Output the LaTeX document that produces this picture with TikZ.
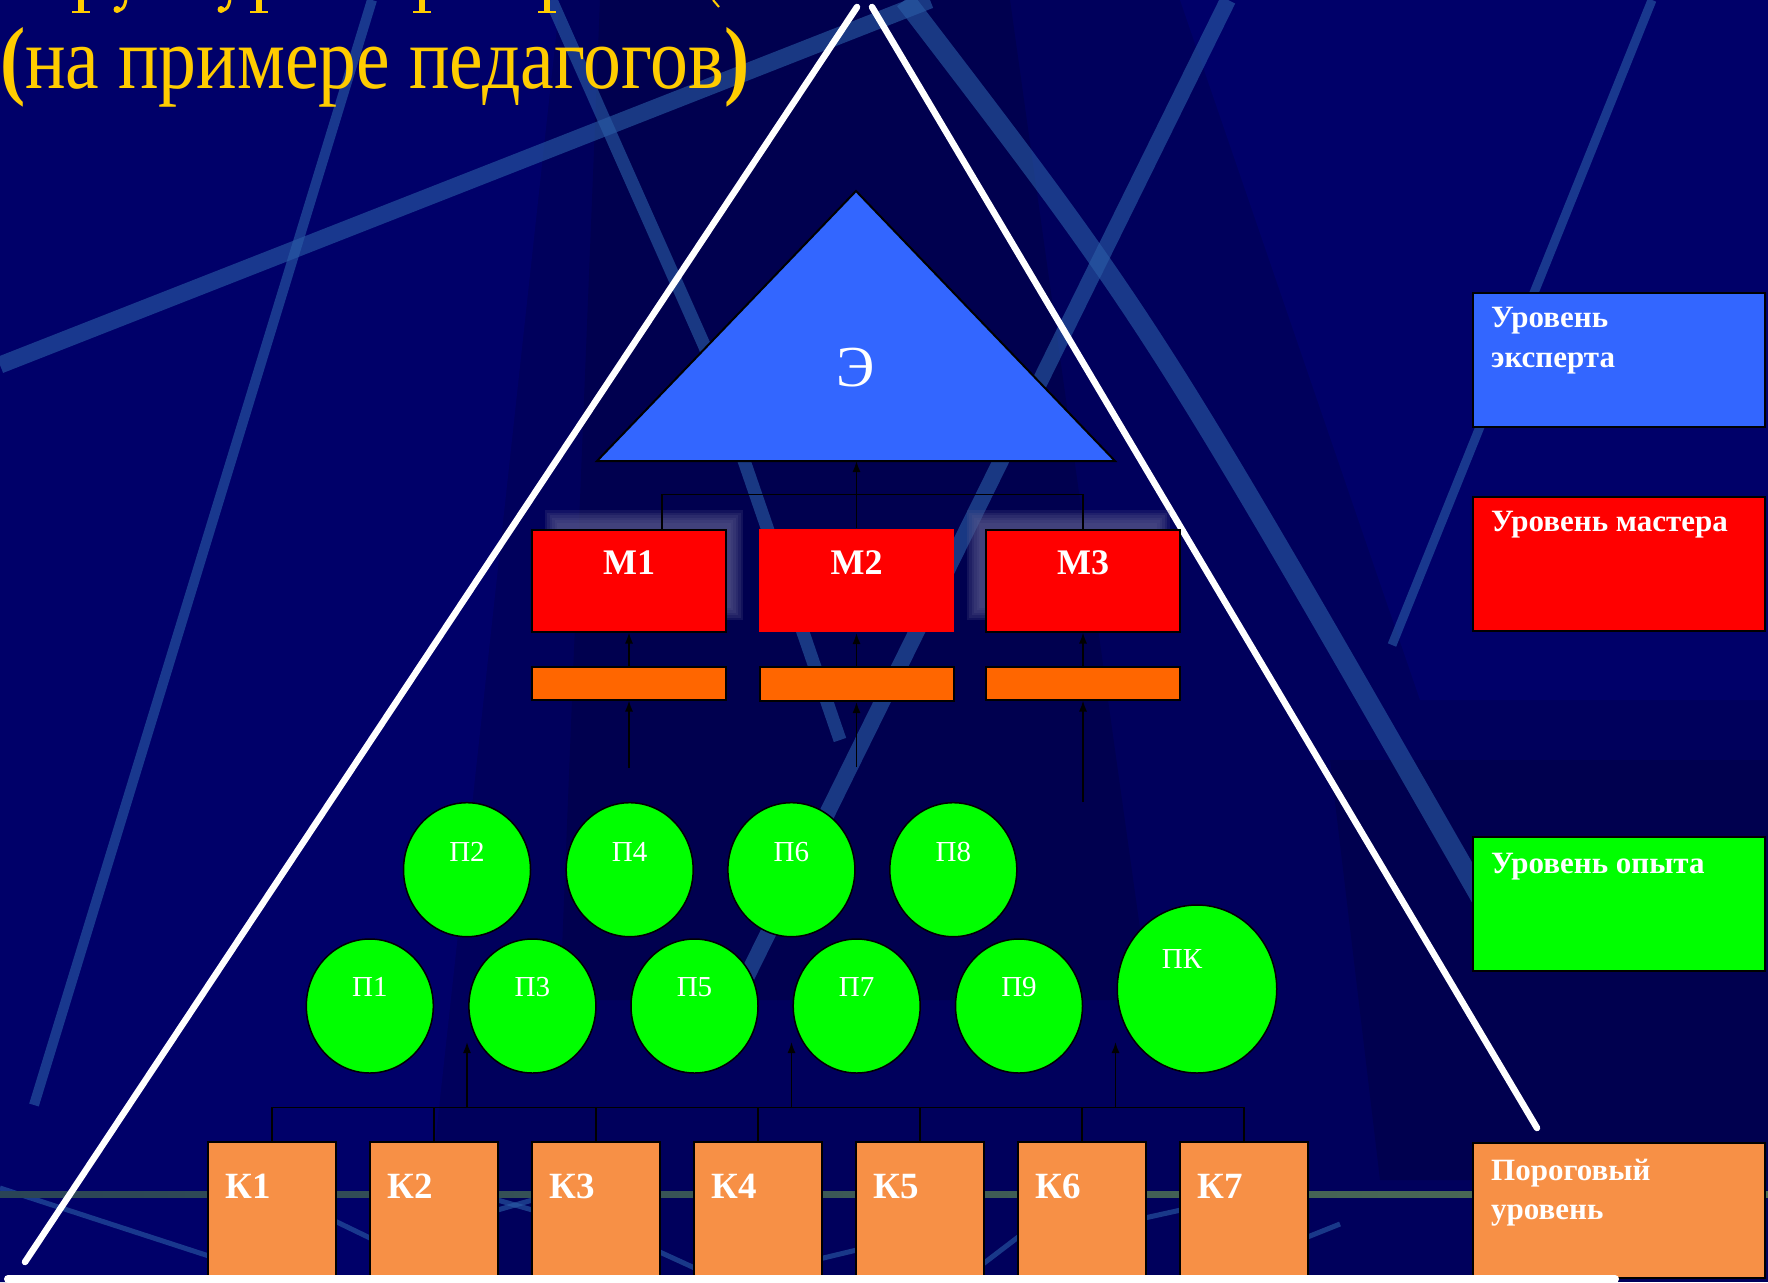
\documentclass[tikz,border=0pt]{standalone}
\usepackage{fontspec}
\setmainfont{Liberation Serif}
\usetikzlibrary{arrows.meta,shapes.geometric}
\definecolor{navy}{HTML}{00005C}
\definecolor{navylight}{HTML}{000069}
\definecolor{navydark}{HTML}{00004F}
\definecolor{streakc}{HTML}{2B5EA7}
\definecolor{eblue}{HTML}{3366FF}
\definecolor{mred}{HTML}{FF0000}
\definecolor{pgreen}{HTML}{00FF00}
\definecolor{korange}{HTML}{F79046}
\definecolor{barorange}{HTML}{FF6600}
\definecolor{titley}{HTML}{FFCC00}
\definecolor{shadowc}{HTML}{5A5A8C}
\definecolor{bandl}{HTML}{2A4456}
\definecolor{bandm}{HTML}{92D050}
\definecolor{bandr}{HTML}{4F6F55}
\begin{document}
\begin{tikzpicture}[x=1pt,y=-1pt,
  streak/.style={draw=streakc, opacity=0.6},
  conn/.style={draw=black, line width=1.5pt},
  arr/.style={draw=black, line width=1.5pt, -{Latex[length=11pt,width=8pt]}},
  mbox/.style={draw=black, line width=2pt, fill=mred, rectangle, inner sep=0, minimum width=194pt, minimum height=102pt},
  barbox/.style={draw=black, line width=2pt, fill=barorange, rectangle, inner sep=0, minimum width=194pt, minimum height=33pt},
  pell/.style={draw=black, line width=1.5pt, fill=pgreen, ellipse, inner sep=0, minimum width=127pt, minimum height=134pt},
  kbox/.style={draw=black, line width=1.2pt, fill=korange, rectangle, inner sep=0, minimum width=128pt, minimum height=148pt},
  legbox/.style={draw=black, line width=2pt, rectangle, inner sep=0, minimum width=292pt, minimum height=134pt},
  legtext/.style={text=white, font=\fontsize{31}{36}\selectfont\bfseries, anchor=base west, inner sep=0},
  mlab/.style={text=white, font=\fontsize{36}{40}\selectfont\bfseries, anchor=base, inner sep=0},
  klab/.style={text=white, font=\fontsize{37}{40}\selectfont\bfseries, anchor=base west, inner sep=0},
  plab/.style={text=white, font=\fontsize{29}{32}\selectfont, anchor=base, inner sep=0},
  whiteline/.style={draw=white, line width=6.5pt, line cap=round}
]
\useasboundingbox (0,0) rectangle (1768,1282);
\begin{scope}
\clip (0,0) rectangle (1768,1282);
% background
\fill[navy] (0,0) rectangle (1768,1282);
\fill[navylight] (0,0) -- (560,0) -- (420,1282) -- (0,1282) -- cycle;
\fill[navydark] (600,0) -- (1010,0) -- (1150,1000) -- (560,1000) -- cycle;
\fill[navylight] (1180,0) -- (1768,0) -- (1768,700) -- (1420,700) -- cycle;
\fill[navydark] (1330,760) -- (1768,760) -- (1768,1180) -- (1380,1180) -- cycle;
% streaks
\draw[streak, line width=17pt] (0,365) -- (930,0);
\draw[streak, line width=10pt] (372,0) -- (34,1105);
\draw[streak, line width=13pt] (551,0) -- (705,347) -- (840,740);
\draw[streak, line width=16pt] (1228,0) -- (745,980);
\draw[streak, line width=20pt] (905,0) .. controls (1150,320) .. (1485,905);
\draw[streak, line width=9pt] (1652,0) -- (1392,645);
% bottom streaks
\draw[streak, line width=5pt] (0,1188) -- (215,1258);
\draw[streak, line width=5pt] (250,1180) -- (430,1267);
\draw[streak, line width=5pt] (480,1195) -- (550,1215);
\draw[streak, line width=5pt] (480,1215) -- (550,1195);
\draw[streak, line width=5pt] (640,1243) -- (710,1275);
\draw[streak, line width=5pt] (815,1260) -- (865,1248);
\draw[streak, line width=5pt] (975,1270) -- (1030,1228);
\draw[streak, line width=5pt] (1140,1219) -- (1190,1208);
\draw[streak, line width=5pt] (1300,1240) -- (1340,1224);
% horizontal band
\shade[left color=bandl, middle color=bandm, right color=bandr] (0,1191) rectangle (1768,1197);
\end{scope}

% title fragments of the first (cut-off) line
\begin{scope}[titley]
\foreach \xx in {81,259,422,547} {
  \fill (\xx-3,0) rectangle (\xx+3,11.5);
  \fill (\xx-9,10.5) rectangle (\xx+9,13);
}
\foreach \xx in {119,223} {
  \draw[line width=3pt] (\xx+7,0) .. controls (\xx+5,8) .. (\xx-1,11);
  \fill (\xx-2,9.5) circle (3.5);
}
\draw[line width=2pt] (713,0) -- (719,7);
\end{scope}
% title line
\node[anchor=base west, inner sep=0, text=titley, font=\fontsize{88}{96}\selectfont] (title) at (0,88)
  {\scalebox{0.86}[1]{{\bfseries(}на примере педагогов{\bfseries)}}};

% large white pyramid
\draw[whiteline] (857,7) -- (25,1262);
\draw[whiteline] (872,7) -- (1537,1128);

% expert triangle
\draw[fill=eblue, line width=2pt, line join=miter] (597,461) -- (856,191) -- (1115,461) -- cycle;
\coordinate (ebase) at (856.5,461);
\node[text=white, font=\fontsize{58}{60}\selectfont, anchor=base, inner sep=0] (etext) at (856,386) {Э};

% shadows behind M1, M3
\foreach \i in {0,...,5} {
  \fill[shadowc, opacity=0.2] (544.6+\i*2.5,510+\i*2.5) rectangle (743.3-\i*2.5,620-\i*2.5);
  \fill[shadowc, opacity=0.2] (966.5+\i*2.5,510+\i*2.5) rectangle (1169.6-\i*2.5,620-\i*2.5);
}

% master boxes
\node[mbox] (m1) at (629,580.5) {};
\node[mbox, draw=none, minimum width=195pt, minimum height=103pt] (m2) at (856.5,580.5) {};
\node[mbox] (m3) at (1083,580.5) {};
\node[mlab] (m1t) at (629,574) {М1};
\node[mlab] (m2t) at (856.5,574) {М2};
\node[mlab] (m3t) at (1083,574) {М3};

% orange bars
\node[barbox] (b1) at (629,683) {};
\node[barbox, minimum height=34pt] (b2) at (856.5,684) {};
\node[barbox] (b3) at (1083,683) {};

% connectors master -> expert
\draw[conn] ([xshift=33pt]m1.north) -- ++(0,-34) -| (m3.north);
\draw[arr] (m2.north) -- (ebase);
\draw[arr] (b1.north) -- (m1.south);
\draw[arr] (b2.north) -- (m2.south);
\draw[arr] (b3.north) -- (m3.south);
\coordinate (f1) at (629,768);
\coordinate (f2) at (856.5,767);
\coordinate (f3) at (1083,802);
\draw[arr] (f1) -- (b1.south);
\draw[arr] (f2) -- (b2.south);
\draw[arr] (f3) -- (b3.south);

% experience ellipses
\node[pell] (p2) at (467,869.7) {};
\node[pell] (p4) at (629.7,869.7) {};
\node[pell] (p6) at (791.4,869.7) {};
\node[pell] (p8) at (953.3,869.7) {};
\node[pell] (p1) at (369.8,1006) {};
\node[pell] (p3) at (532.4,1006) {};
\node[pell] (p5) at (694.5,1006) {};
\node[pell] (p7) at (856.7,1006) {};
\node[pell] (p9) at (1019,1006) {};
\node[pell, minimum width=159.5pt, minimum height=168pt] (pk) at (1197,989) {};
\node[plab] (p2t) at (467,861) {П2};
\node[plab] (p4t) at (629.7,861) {П4};
\node[plab] (p6t) at (791.4,861) {П6};
\node[plab] (p8t) at (953.3,861) {П8};
\node[plab] (p1t) at (369.8,996.7) {П1};
\node[plab] (p3t) at (532.4,996.7) {П3};
\node[plab] (p5t) at (694.5,996.7) {П5};
\node[plab] (p7t) at (856.7,996.7) {П7};
\node[plab] (p9t) at (1019,996.7) {П9};
\node[plab] (pkt) at (1182,968) {ПК};

% K boxes
\foreach \n/\l in {1/208,2/370,3/532,4/694,5/856,6/1018,7/1180} {
  \node[kbox] (k\n) at (\l+64,1216) {};
  \node[klab] (k\n t) at (\l+17.5,1198) {К\n};
}
\draw[conn] (k1.north) -- ++(0,-34) -| (k7.north);
\foreach \n in {2,...,6} { \draw[conn] (k\n.north) -- ++(0,-34); }
\coordinate (u1) at (467,1108);   \coordinate (a1) at (467,1042);
\coordinate (u2) at (791.5,1108); \coordinate (a2) at (791.5,1042);
\coordinate (u3) at (1115.5,1108);\coordinate (a3) at (1115.5,1042);
\draw[arr] (u1) -- (a1);
\draw[arr] (u2) -- (a2);
\draw[arr] (u3) -- (a3);

% legend
\node[legbox, fill=eblue] (lb) at (1618.6,359.8) {};
\node[legbox, fill=mred] (lr) at (1618.6,563.8) {};
\node[legbox, fill=pgreen] (lg) at (1618.6,903.9) {};
\node[legbox, fill=korange, minimum height=135pt] (lo) at (1618.6,1210) {};
\node[legtext] (lbt1) at (1491,327) {Уровень};
\node[legtext] (lbt2) at (1491,367) {эксперта};
\node[legtext] (lrt) at (1491,531.5) {Уровень мастера};
\node[legtext] (lgt) at (1491,873.5) {Уровень опыта};
\node[legtext] (lot1) at (1491,1180) {Пороговый};
\node[legtext] (lot2) at (1491,1219) {уровень};

% bottom white line
\draw[draw=white, line width=8pt, line cap=round] (8,1279) -- (1615,1279);
\end{tikzpicture}
\end{document}
